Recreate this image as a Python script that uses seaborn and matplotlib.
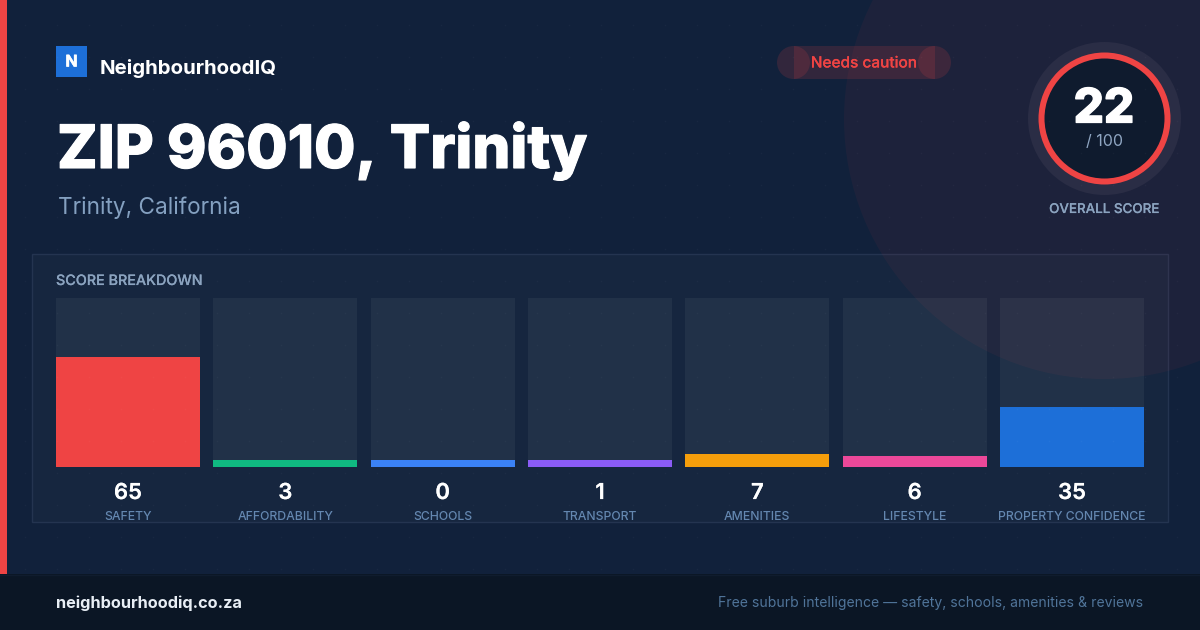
import numpy as np
import pandas as pd
import seaborn as sns
import matplotlib.pyplot as plt
import matplotlib.patheffects as pe
from matplotlib.patches import Circle, Rectangle

categories = ["SAFETY", "AFFORDABILITY", "SCHOOLS", "TRANSPORT", "AMENITIES", "LIFESTYLE", "PROPERTY CONFIDENCE"]
scores = [65, 3, 0, 1, 7, 6, 35]
# drawn height in percent of the track (small scores get a minimum height)
fill_heights = [65, 4.1, 4.1, 4.1, 7.7, 6.5, 35.5]
bar_colors = ["#ef4444", "#10b981", "#3b82f6", "#8b5cf6", "#f59e0b", "#ec4899", "#1d6fd8"]
track_max = [100] * 7
overall_score = 22

sns.set_theme(style="white")
plt.rcParams["font.family"] = ["Inter", "DejaVu Sans"]

W, H = 1200, 630
PX = 0.72  # px to pt at dpi 100


def thicker(width, color="white"):
    # the installed Inter stops short of the heavy weights
    return [pe.withStroke(linewidth=width, foreground=color)]


fig = plt.figure(figsize=(12, 6.3), dpi=100, facecolor="#11213b")

# base layer in pixel coordinates
base = fig.add_axes([0, 0, 1, 1], zorder=0)
base.set_xlim(0, W)
base.set_ylim(H, 0)
base.axis("off")

base.add_patch(Rectangle((32, 254), 1136, 268, fc="#16263f", ec="#243450", lw=1))
base.add_patch(Circle((1104, 119), 260, fc="#ef4444", ec="none", alpha=0.055))
base.add_patch(Rectangle((0, 0), 7, 574, fc="#ef4444", ec="none"))
base.add_patch(Rectangle((0, 574), W, 56, fc="#0b1625", ec="none"))
base.plot([0, W], [574.5, 574.5], color="#101c2e", lw=1)

# logo and headings
base.add_patch(Rectangle((56, 46), 31, 31, fc="#1d6fd8", ec="none"))
base.text(71.5, 62, "N", color="white", fontsize=16 * PX, fontweight="bold", ha="center", va="center",
          path_effects=thicker(0.4))
base.text(100, 69, "NeighbourhoodIQ", color="white", fontsize=20.4 * PX, fontweight="bold", va="center")
base.text(57, 151, "ZIP 96010, Trinity", color="white", fontsize=59.9 * PX, fontweight="heavy", va="center",
          path_effects=thicker(0.8))
base.text(58, 207.5, "Trinity, California", color="#84a0c0", fontsize=22.6 * PX, va="center")

# status pill, the end caps overlap the middle part
pill_red = "#ef4444"
base.add_patch(Rectangle((793.5, 46), 141.5, 33, fc=pill_red, ec="none", alpha=0.15))
base.add_patch(Circle((793.5, 62.5), 16.5, fc=pill_red, ec="none", alpha=0.15))
base.add_patch(Circle((934.5, 62.5), 16.5, fc=pill_red, ec="none", alpha=0.15))
base.text(864, 63, "Needs caution", color=pill_red, fontsize=15.4 * PX, fontweight="medium", ha="center", va="center",
          path_effects=thicker(0.1, pill_red))

# overall score ring
base.add_patch(Circle((1104.5, 118.5), 76.5, fc="#2a2d45", ec="none"))
base.add_patch(Circle((1104.5, 118.5), 66, fc="#ef4444", ec="none"))
base.add_patch(Circle((1104.5, 118.5), 60, fc="#0f1b2e", ec="none"))
base.text(1104, 110.5, str(overall_score), color="white", fontsize=47.5 * PX, fontweight="heavy", ha="center", va="center",
          path_effects=thicker(0.9))
base.text(1104, 142, "/ 100", color="#8fa6c2", fontsize=16 * PX, ha="center", va="center")
base.text(1104.5, 209, "OVERALL SCORE", color="#8ba3bf", fontsize=13.4 * PX, fontweight="medium", ha="center", va="center",
          path_effects=thicker(0.1, "#8ba3bf"))

base.text(56, 281, "SCORE BREAKDOWN", color="#8ba3bf", fontsize=14.35 * PX, fontweight="medium", va="center",
          path_effects=thicker(0.1, "#8ba3bf"))

# footer text
base.text(56, 603, "neighbourhoodiq.co.za", color="#e8eef5", fontsize=16.3 * PX, fontweight="bold", va="center")
base.text(1143, 603, "Free suburb intelligence — safety, schools, amenities & reviews", color="#507499", fontsize=14 * PX, ha="right", va="center")

# bars, axes spans x 56-1144 and y 298-467
ax = fig.add_axes([56 / W, 1 - 467 / H, 1088 / W, 169 / H], zorder=1)
ax.patch.set_alpha(0)
df = pd.DataFrame({"category": categories, "score": scores, "fill": fill_heights, "track": track_max})
bar_width = 144 / (1088 / 6.915)

sns.barplot(data=df, x="category", y="track", color="white", alpha=0.05, saturation=1, width=bar_width,
            linewidth=0, edgecolor="none", ax=ax)
sns.barplot(data=df, x="category", y="fill", hue="category", palette=bar_colors, saturation=1,
            width=bar_width, legend=False, linewidth=0, edgecolor="none", ax=ax)

half = 6.915 / 2 - 3
ax.set_xlim(-half, 6 + half)
ax.set_ylim(0, 100)
ax.set_xlabel("")
ax.set_ylabel("")
ax.set_yticks([])
sns.despine(ax=ax, left=True, bottom=True)
ax.tick_params(axis="x", length=0, pad=44 * PX)
ax.set_xticks(range(len(categories)))
ax.set_xticklabels(categories, color="#6487b0", fontsize=12.25 * PX, fontweight="medium")

for i, score in enumerate(scores):
    ax.text(i, -26 / 169, str(score), transform=ax.get_xaxis_transform(), color="white",
            fontsize=22 * PX, fontweight="semibold", ha="center", va="center", path_effects=thicker(0.12))

# faint dot grid on top of everything
dots = fig.add_axes([0, 0, 1, 1], zorder=2)
dots.set_xlim(0, W)
dots.set_ylim(H, 0)
dots.axis("off")
dot_x, dot_y = np.meshgrid(np.arange(24.5, W, 32), np.arange(24.5, 574, 32))
dots.scatter(dot_x.ravel(), dot_y.ravel(), s=1.5, color="white", alpha=0.03, linewidths=0)

fig.savefig("out.png", dpi=100, facecolor=fig.get_facecolor())
